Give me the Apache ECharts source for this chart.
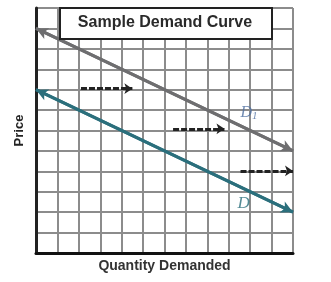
<!DOCTYPE html>
<html><head><meta charset="utf-8">
<script src="https://cdn.jsdelivr.net/npm/echarts@6/dist/echarts.min.js"></script>
<style>html,body{margin:0;padding:0;background:#fff}#c{width:331px;height:282px}</style>
</head><body><div id="c"></div>
<script>
const titleText = 'Sample Demand Curve';
const xName = 'Quantity Demanded';
const yName = 'Price';
const D1Line = [[0, 11], [12, 5]];
const DLine = [[0, 8], [12, 2]];
const shiftArrows = [
  [[2.1, 8.05], [4.5, 8.05]],
  [[6.4, 6.08], [8.8, 6.08]],
  [[9.55, 4.02], [12, 4.02]]
];
const curveLabels = [
  {name: 'D1', value: [9.95, 6.85]},
  {name: 'D', value: [9.7, 2.4]}
];

const chart = echarts.init(document.getElementById('c'), null, {renderer: 'canvas'});
chart.setOption({
  animation: false,
  grid: {left: 36, right: 38, top: 8, bottom: 29},
  xAxis: {
    type: 'value', min: 0, max: 12, interval: 1,
    name: xName, nameLocation: 'middle', nameGap: 6,
    nameTextStyle: {fontFamily: 'Liberation Sans', fontSize: 14, fontWeight: 'bold', color: '#333'},
    axisLine: {show: true, onZero: false, lineStyle: {color: '#111', width: 3}},
    axisTick: {show: false}, axisLabel: {show: false},
    splitLine: {show: true, lineStyle: {color: '#8c8c8c', width: 2}}
  },
  yAxis: {
    type: 'value', min: 0, max: 12, interval: 1,
    name: yName, nameLocation: 'middle', nameGap: 10, nameRotate: 90,
    nameTextStyle: {fontFamily: 'Liberation Sans', fontSize: 13, fontWeight: 'bold', color: '#222'},
    axisLine: {show: true, onZero: false, lineStyle: {color: '#222', width: 3}},
    axisTick: {show: false}, axisLabel: {show: false},
    splitLine: {show: true, lineStyle: {color: '#8c8c8c', width: 2}}
  },
  series: [
    {
      type: 'line', data: D1Line, symbol: 'none', silent: true,
      lineStyle: {color: '#6e6e70', width: 3}, z: 3,
      markLine: {
        silent: true, symbol: ['arrow', 'arrow'], symbolSize: [9, 12],
        label: {show: false},
        lineStyle: {color: '#6e6e70', width: 3, type: 'solid'},
        data: [[{coord: D1Line[0]}, {coord: D1Line[1]}]]
      }
    },
    {
      type: 'line', data: DLine, symbol: 'none', silent: true,
      lineStyle: {color: '#2b6f7c', width: 3}, z: 3,
      markLine: {
        silent: true, symbol: ['arrow', 'arrow'], symbolSize: [9, 12],
        label: {show: false},
        lineStyle: {color: '#2b6f7c', width: 3, type: 'solid'},
        data: [[{coord: DLine[0]}, {coord: DLine[1]}]]
      }
    },
    {
      type: 'line', data: [], silent: true,
      markLine: {
        silent: true, symbol: ['none', 'arrow'], symbolSize: [8, 8],
        label: {show: false},
        lineStyle: {color: '#222', width: 3, type: [6, 2]},
        data: shiftArrows.map(a => [{coord: a[0]}, {coord: a[1]}])
      }
    },
    {
      type: 'scatter', symbolSize: 0, silent: true,
      data: curveLabels,
      label: {
        show: true, position: 'inside',
        formatter: p => p.name === 'D1' ? '{a|D}{s|1}' : '{b|D}',
        rich: {
          a: {fontFamily: 'Liberation Serif', fontStyle: 'italic', fontSize: 16, color: '#4f6fa0'},
          s: {fontFamily: 'Liberation Serif', fontStyle: 'italic', fontSize: 11, color: '#4f6fa0', verticalAlign: 'bottom', padding: [6, 0, 0, 0]},
          b: {fontFamily: 'Liberation Serif', fontStyle: 'italic', fontSize: 17, color: '#2b6f7c'}
        }
      }
    }
  ],
  graphic: [
    {type: 'rect', left: 59, top: 7, z: 10, shape: {width: 212, height: 31},
     style: {fill: '#fff', stroke: '#222', lineWidth: 2}},
    {type: 'text', x: 165, y: 23, z: 11,
     style: {text: titleText, fontFamily: 'Liberation Sans', fontWeight: 'bold', fontSize: 16, fill: '#2a2a2a', align: 'center', verticalAlign: 'middle'}}
  ]
});
</script></body></html>
